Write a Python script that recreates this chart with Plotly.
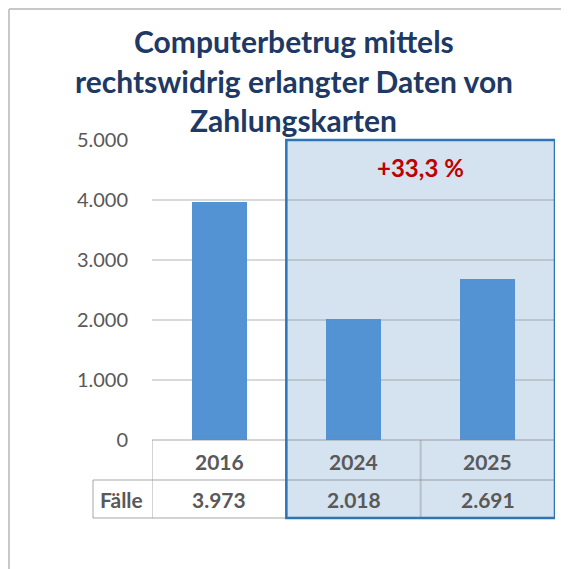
import plotly.graph_objects as go

years = ["2016", "2024", "2025"]
cases = [3973, 2018, 2691]
row_label = "Fälle"
title_lines = ["Computerbetrug mittels", "rechtswidrig erlangter Daten von", "Zahlungskarten"]
y_ticks = [0, 1000, 2000, 3000, 4000, 5000]

def de_num(v):
    return f"{v:,}".replace(",", ".")

change = (cases[2] - cases[1]) / cases[1] * 100
change_label = f"+{change:.1f} %".replace(".", ",")

OFF = 8  # browser body margin
W, H = 569 - OFF, 569 - OFF
L, R, T, B = 152 - OFF, 14, 140 - OFF, 129
pw, ph = W - L - R, H - T - B

def px(x):
    return (x - OFF - L) / pw

def py(y):
    return (H - B - (y - OFF)) / ph

fig = go.Figure()
fig.add_trace(go.Bar(
    x=[0, 1, 2], y=cases, width=0.41,
    marker=dict(color="#5393d3", line=dict(width=0)),
    hoverinfo="skip",
))

shapes = []
shapes.append(dict(type="rect", xref="x", yref="paper", x0=0.5, x1=2.5, y0=py(518), y1=1,
                   fillcolor="#d5e2ef", line=dict(width=0), layer="below"))
frame = "#c8c8c8"
shapes.append(dict(type="line", xref="paper", yref="paper", x0=px(9), x1=px(569), y0=py(9), y1=py(9),
                   line=dict(color=frame, width=2), layer="above"))
shapes.append(dict(type="line", xref="paper", yref="paper", x0=px(9), x1=px(9), y0=py(9), y1=py(569),
                   line=dict(color=frame, width=2), layer="above"))
tc = "rgba(128,128,128,0.35)"
tl = dict(color=tc, width=2)
for xv in [-0.5, 0.5, 1.5, 2.5]:
    shapes.append(dict(type="line", xref="x", yref="paper", x0=xv, x1=xv, y0=0, y1=py(518), line=tl, layer="above"))
shapes.append(dict(type="line", xref="paper", yref="paper", x0=px(93), x1=px(93), y0=py(480), y1=py(518), line=tl, layer="above"))
shapes.append(dict(type="line", xref="paper", yref="paper", x0=px(93), x1=1, y0=py(480), y1=py(480), line=tl, layer="above"))
shapes.append(dict(type="line", xref="paper", yref="paper", x0=px(93), x1=1, y0=py(518), y1=py(518), line=tl, layer="above"))
shapes.append(dict(type="line", xref="paper", yref="paper", x0=0, x1=1, y0=0, y1=0, line=tl, layer="above"))
shapes.append(dict(type="rect", xref="x", yref="paper", x0=0.5, x1=2.5, y0=py(518), y1=1,
                   fillcolor="rgba(0,0,0,0)", line=dict(color="#2e75b6", width=2.5), layer="above"))

annotations = []
for i, t in enumerate(title_lines):
    annotations.append(dict(text=f"<b>{t}</b>", xref="paper", yref="paper", x=px(293.5), y=py(41 + i * 39.5),
                            showarrow=False, xanchor="center", yanchor="middle",
                            font=dict(family="Lato", size=30, color="#203864")))
tf = dict(family="Lato", size=21, color="#595959")
for i, (yr, v) in enumerate(zip(years, cases)):
    annotations.append(dict(text=f"<b>{yr}</b>", xref="x", yref="paper", x=i, y=py(461),
                            showarrow=False, xanchor="center", yanchor="middle", font=tf))
    annotations.append(dict(text=f"<b>{de_num(v)}</b>", xref="x", yref="paper", x=i, y=py(499),
                            showarrow=False, xanchor="center", yanchor="middle", font=tf))
annotations.append(dict(text=f"<b>{row_label}</b>", xref="paper", yref="paper", x=px(121), y=py(499),
                        showarrow=False, xanchor="center", yanchor="middle", font=tf))
annotations.append(dict(text=f"<b>{change_label}</b>", xref="x", yref="paper", x=1.5, y=py(167),
                        showarrow=False, xanchor="center", yanchor="middle",
                        font=dict(family="Lato", size=24, color="#c00000")))

fig.update_layout(
    width=W, height=H,
    margin=dict(l=L, r=R, t=T, b=B, pad=0),
    paper_bgcolor="white", plot_bgcolor="rgba(0,0,0,0)",
    separators=",.",
    showlegend=False,
    bargap=0,
    shapes=shapes, annotations=annotations,
    xaxis=dict(range=[-0.5, 2.5], showticklabels=False, showgrid=False, zeroline=False,
               showline=False, fixedrange=True),
    yaxis=dict(range=[0, 5000], tickvals=y_ticks, ticktext=[de_num(v) for v in y_ticks],
               showgrid=True, gridcolor="rgba(128,128,128,0.3)", gridwidth=2,
               zeroline=False, showline=False, ticks="", ticklabelstandoff=23,
               tickfont=dict(family="Lato", size=20, color="#595959"), fixedrange=True),
)

fig.write_html("out.html")
